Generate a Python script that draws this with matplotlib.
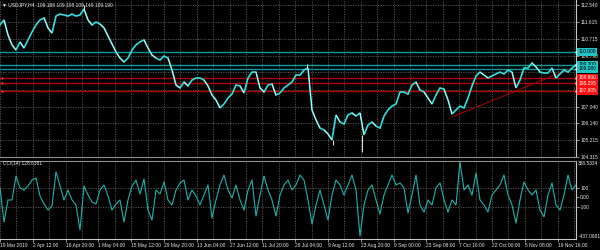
import numpy as np
import matplotlib
matplotlib.use("Agg")
import matplotlib.pyplot as plt
from matplotlib.collections import LineCollection

plt.rcParams["font.family"] = ["Liberation Sans", "DejaVu Sans"]

# ---------------- data ----------------
symbol_title = "\u25BC USDJPY,H4  109.188 109.198 109.149 109.190"
cci_title = "CCI(14) 128.6381"

time_labels = ["19 Mar 2019", "2 Apr 12:00", "16 Apr 20:00", "1 May 04:00", "15 May 12:00",
               "29 May 20:00", "13 Jun 04:00", "27 Jun 12:00", "11 Jul 20:00", "26 Jul 04:00",
               "9 Aug 12:00", "23 Aug 20:00", "9 Sep 00:00", "23 Sep 08:00", "7 Oct 16:00",
               "22 Oct 00:00", "5 Nov 08:00", "19 Nov 16:00"]

# close price sampled every 8 H4 bars
close = [111.46, 111.73, 110.92, 110.38, 110.10, 110.54, 110.21, 110.65, 111.08, 111.46,
         111.73, 111.84, 111.30, 111.02, 111.94, 112.05, 112.00, 111.94, 112.05, 111.94,
         112.00, 112.32, 111.73, 111.46, 111.62, 111.51, 111.30, 110.86, 110.43, 110.00,
         109.67, 109.46, 109.67, 110.10, 110.38, 110.54, 110.65, 110.21, 109.83, 109.67,
         109.56, 109.78, 109.67, 109.02, 108.21, 108.05, 108.37, 108.16, 108.48, 108.59,
         108.59, 108.48, 108.16, 107.67, 107.40, 106.97, 107.18, 107.51, 107.72, 108.21,
         108.16, 107.78, 108.59, 108.91, 108.91, 108.05, 107.83, 108.21, 108.26, 107.67,
         107.78, 108.05, 108.21, 108.37, 108.75, 108.75, 109.02, 109.13, 106.86, 106.32,
         105.88, 105.78, 105.56, 105.24, 106.59, 106.21, 106.10, 106.59, 106.70, 106.53,
         106.70, 105.51, 106.05, 106.21, 105.99, 105.88, 106.53, 106.86, 107.07, 107.18,
         107.83, 107.83, 107.72, 108.21, 108.37, 107.94, 107.83, 107.51, 107.18, 107.67,
         108.05, 107.99, 107.40, 106.64, 106.86, 107.07, 106.97, 107.51, 108.16, 108.70,
         108.91, 108.75, 108.59, 108.70, 108.81, 108.91, 108.81, 109.02, 108.91, 108.05,
         108.48, 109.13, 109.13, 109.40, 109.19, 108.91, 108.86, 108.86, 109.13, 108.59,
         108.81, 109.02, 108.91, 109.13, 109.29]

# notable wick extremes (bar index, close-side price, extreme price)
wick_bars = [168, 614, 666, 724]
wick_from = [112.32, 109.13, 105.24, 105.51]
wick_to = [112.55, 109.35, 104.95, 104.58]

cci = [100, -258, -26, -26, 226, 100, 79, 121, 184, 205,
       16, -68, -132, -90, 269, 121, -26, 79, -26, -79,
       -342, 121, 26, -47, -68, 79, 132, 16, -132, -68,
       -26, -258, -26, 121, 184, 37, 195, -132, -237, 79,
       37, 163, -26, -79, 79, 153, 184, -26, 79, 16,
       -79, 26, 132, -216, -26, 132, 237, 79, -5, 132,
       -26, -132, 79, 184, -195, 26, 226, 79, -26, -195,
       26, 132, 184, 79, 132, 237, 184, -26, -279, -79,
       79, -79, -237, 26, 184, 132, 26, 132, 237, 79,
       -405, -79, 79, 132, -26, -174, 26, 132, 237, 132,
       153, 100, -163, 26, 237, -79, -153, -26, -79, 100,
       153, -26, -153, -26, -79, 374, 79, 132, 26, 258,
       -26, -79, -153, 26, 79, 132, 237, 26, -79, -269,
       -26, 163, 79, 26, 79, -132, -205, 26, 153, -79,
       -132, 26, 237, 79, 132]

price_grid = [112.540, 111.615, 110.715, 109.790, 108.890, 107.965, 107.040, 106.140, 105.215, 104.315]
price_labels_shown = [112.540, 111.615, 110.715, 109.790, 107.040, 106.140, 105.215, 104.315]
teal_levels = [110.000, 109.300, 109.080]
red_levels = [108.600, 108.295, 107.905]
trend_start = (904, 106.48)
trend_end = (1150, 109.19)
cci_levels = [100, 0, -100]
cci_max, cci_min = 388.5334, -437.0681
price_top, price_bottom = 112.81, 104.315

# ---------------- layout ----------------
W, H = 600, 250
BG = "black"
TXT = "#e8e8e8"
GRID = "#5c5c5c"
step = 8
bars_per_label = 65.6
n_total = 1152

fig = plt.figure(figsize=(6, 2.5), dpi=100, facecolor=BG)
ax = fig.add_axes([0, 1 - 157 / H, 576 / W, 157 / H], facecolor=BG)
ax2 = fig.add_axes([0, 1 - 239 / H, 576 / W, (239 - 160.6) / H], facecolor=BG)

x = np.arange(len(close)) * step
xc = np.arange(len(cci)) * step
c = np.array(close)

# grid
for a in (ax, ax2):
    for gx in np.arange(0, n_total + 1, bars_per_label / 2):
        a.axvline(gx, color=GRID, lw=0.6, ls=(0, (1.5, 1.5)), zorder=0)
for gy in price_grid:
    ax.axhline(gy, color=GRID, lw=0.6, ls=(0, (1.5, 1.5)), zorder=0)
for gy in [100, -100]:
    ax2.axhline(gy, color=GRID, lw=0.6, ls=(0, (1.5, 1.5)), zorder=0)

# horizontal levels
for lv in teal_levels:
    ax.axhline(lv, color="#0f9a9a", lw=1.0, zorder=1)
for lv in red_levels:
    ax.axhline(lv, color="#b00000", lw=1.0, zorder=1)
    ax.plot([4], [lv], marker="s", ms=1.4, color="#ff4040", mec="none", zorder=4, clip_on=False)

# trend line
ax.plot([trend_start[0], trend_end[0]], [trend_start[1], trend_end[1]], color="#a00000", lw=0.8, zorder=2)

# price line: cyan, with down moves highlighted in white
ax.plot(x, c, color="#33dede", lw=1.2, zorder=3, solid_joinstyle="miter")
pts = np.column_stack([x, c])
segs = np.stack([pts[:-1], pts[1:]], axis=1)
down = [segs[i] for i in range(len(c) - 1) if c[i + 1] < c[i] - 0.15]
ax.add_collection(LineCollection(down, colors="#f4f4f4", linewidths=0.5, zorder=4))
ax.vlines(wick_bars, wick_from, wick_to, colors="#d8d8d8", linewidths=0.8, zorder=4)

# cci line
ax2.plot(xc, cci, color="#1fb3aa", lw=0.8, zorder=3)

ax.set_xlim(0, n_total)
ax2.set_xlim(0, n_total)
ax.set_ylim(price_bottom, price_top)
ax2.set_ylim(cci_min, cci_max)

# spines
for a in (ax, ax2):
    for s in a.spines.values():
        s.set_visible(False)
ax.spines["right"].set_visible(True)
ax.spines["right"].set_color("#c8c8c8")
ax.spines["bottom"].set_visible(True)
ax.spines["bottom"].set_color("#909090")
ax2.spines["right"].set_visible(True)
ax2.spines["right"].set_color("#c8c8c8")
ax2.spines["top"].set_visible(True)
ax2.spines["top"].set_color("#909090")
ax2.spines["bottom"].set_visible(True)
ax2.spines["bottom"].set_color("#c8c8c8")

FS = 3.5
# price ticks
ax.yaxis.tick_right()
ax.set_yticks(price_labels_shown)
ax.set_yticklabels([f"{v:.3f}" for v in price_labels_shown])
ax.tick_params(axis="y", colors="#c8c8c8", labelcolor=TXT, labelsize=FS, length=2, width=0.5, pad=1)
ax.set_xticks([])

# cci ticks
ax2.yaxis.tick_right()
ax2.set_yticks(cci_levels)
ax2.set_yticklabels(["100", "0.00", "-100"])
ax2.tick_params(axis="y", colors="#c8c8c8", labelcolor=TXT, labelsize=FS, length=2, width=0.5, pad=1)
ax2.text(1.004, 1.0, f"{cci_max:.4f}", transform=ax2.transAxes, ha="left", va="top",
         color=TXT, fontsize=FS, clip_on=False)
ax2.text(1.004, 0.0, f"{cci_min:.4f}", transform=ax2.transAxes, ha="left", va="bottom",
         color=TXT, fontsize=FS, clip_on=False)

# time ticks
tpos = np.arange(len(time_labels)) * bars_per_label
ax2.set_xticks(tpos)
ax2.set_xticklabels(time_labels, ha="left")
ax2.tick_params(axis="x", colors="#c8c8c8", labelcolor=TXT, labelsize=FS, length=2, width=0.5, pad=1)

# level labels on price axis
for lv in teal_levels:
    ax.text(1.004, lv, f"{lv:.3f}", transform=ax.get_yaxis_transform(), ha="left", va="center",
            fontsize=FS, color="black", zorder=6, clip_on=False,
            bbox=dict(boxstyle="square,pad=0.3", fc="#22c4c4", ec="#22c4c4", lw=0))
    ax.plot([n_total], [lv], marker="s", ms=1.6, color="white", mec="none", zorder=5, clip_on=False)
for lv in red_levels:
    ax.text(1.004, lv, f"{lv:.3f}", transform=ax.get_yaxis_transform(), ha="left", va="center",
            fontsize=FS, color="white", zorder=6, clip_on=False,
            bbox=dict(boxstyle="square,pad=0.3", fc="#ff1010", ec="#ff1010", lw=0))
    ax.plot([n_total], [lv], marker="s", ms=1.6, color="white", mec="none", zorder=5, clip_on=False)

# titles
fig.text(2 / W, 1 - 4.5 / H, symbol_title, color=TXT, fontsize=FS, ha="left", va="center")
fig.text(3 / W, 1 - 164 / H, cci_title, color=TXT, fontsize=FS, ha="left", va="center")

fig.savefig("out.png", dpi=100, facecolor=BG)
